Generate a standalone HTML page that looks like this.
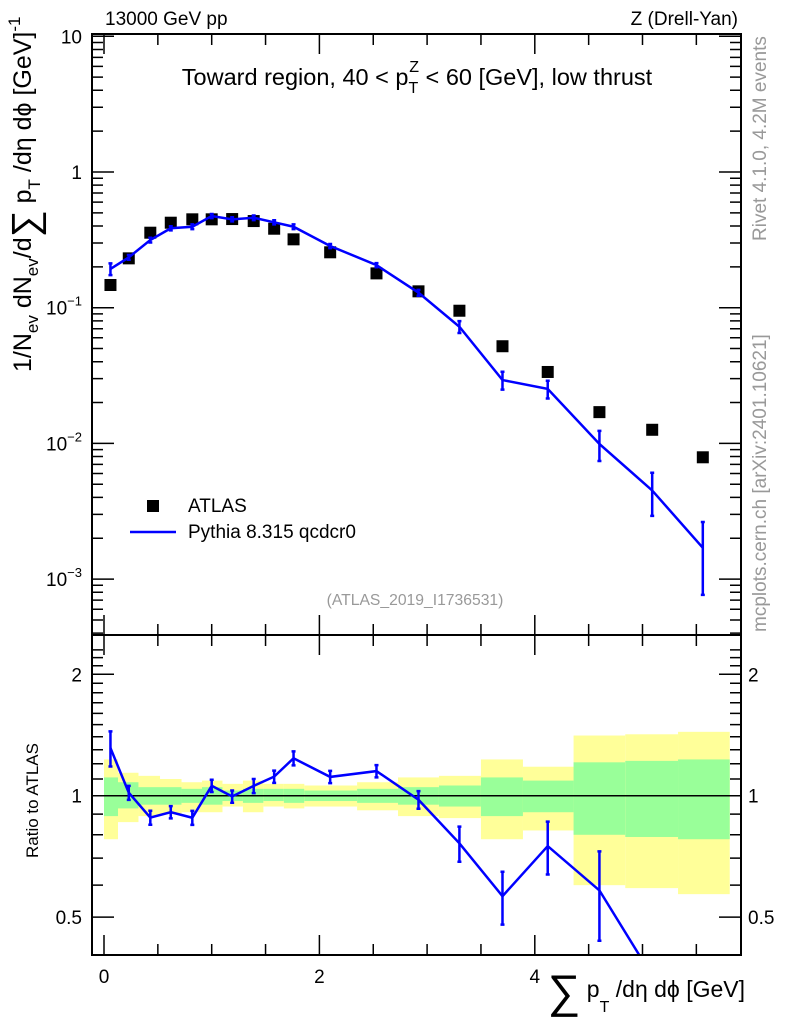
<!DOCTYPE html>
<html><head><meta charset="utf-8"><style>
html,body{margin:0;padding:0;background:#fff;overflow:hidden;width:786px;height:1024px;}
svg{font-family:"Liberation Sans",sans-serif;display:block;}
</style></head><body>
<svg id="c" width="786" height="1024" viewBox="0 0 786 1024" xmlns="http://www.w3.org/2000/svg">
<defs><clipPath id="rclip"><rect x="92" y="635" width="649" height="320"/></clipPath>
<clipPath id="mclip"><rect x="92" y="34" width="649" height="601"/></clipPath></defs>
<g id="bands" clip-path="url(#rclip)"></g>
<g id="marks"></g>
<g id="axes"></g>
<text x="105" y="25" font-size="19">13000 GeV pp</text>
<text x="738" y="25" font-size="19" text-anchor="end">Z (Drell-Yan)</text>
<text x="417" y="85" font-size="23.5" text-anchor="middle">Toward region, 40 &lt; p<tspan font-size="16" dy="8">T</tspan><tspan font-size="16" dx="-9" dy="-21">Z</tspan><tspan dy="13"> &lt; 60 [GeV], low thrust</tspan></text>
<rect x="147" y="500" width="12" height="12" fill="#000"/>
<text x="188" y="512" font-size="19">ATLAS</text>
<line x1="130" y1="532" x2="176" y2="532" stroke="#0000ff" stroke-width="2.5"/>
<text x="188" y="538" font-size="19">Pythia 8.315 qcdcr0</text>
<text x="415" y="605" font-size="15.7" fill="#999" text-anchor="middle">(ATLAS_2019_I1736531)</text>
<text transform="translate(766,241) rotate(-90)" font-size="19" fill="#999">Rivet 4.1.0,  4.2M events</text>
<text transform="translate(766,632) rotate(-90)" font-size="19" fill="#999">mcplots.cern.ch [arXiv:2401.10621]</text>
<text transform="translate(31,372) rotate(-90)" font-size="25">1/N<tspan font-size="17" dy="7">ev</tspan><tspan dy="-7"> dN</tspan><tspan font-size="17" dy="7">ev</tspan><tspan dy="-7">/d</tspan><tspan font-size="38" dy="7">∑</tspan><tspan dy="-7"> p</tspan><tspan font-size="17" dy="9">T</tspan><tspan dy="-9"> /dη dϕ  [GeV]</tspan><tspan font-size="17" dy="-11">-1</tspan></text>
<text transform="translate(38,858) rotate(-90)" font-size="17">Ratio to ATLAS</text>
<text x="745" y="997" font-size="23" text-anchor="end"><tspan font-size="46" dy="10">∑</tspan><tspan dy="-10"> p</tspan><tspan font-size="16" dy="15">T</tspan><tspan dy="-15"> /dη dϕ [GeV]</tspan></text>
</svg>
<script>
const xCenters=[0.06,0.23,0.43,0.62,0.82,1.0,1.19,1.39,1.58,1.76,2.1,2.53,2.92,3.3,3.7,4.12,4.6,5.09,5.56];
const binEdges=[0,0.13,0.32,0.52,0.72,0.91,1.1,1.29,1.48,1.67,1.86,2.35,2.73,3.11,3.5,3.89,4.36,4.84,5.33,5.81];
const atlasVals=[0.147,0.231,0.357,0.423,0.448,0.448,0.45,0.435,0.382,0.319,0.256,0.179,0.132,0.095,0.052,0.0336,0.017,0.0126,0.0079];
const mcVals=[0.193,0.235,0.315,0.385,0.395,0.474,0.448,0.46,0.426,0.395,0.285,0.206,0.129,0.0724,0.0293,0.0252,0.0099,0.0045,0.0017];
const mcRelErr=[0.10,0.04,0.04,0.035,0.04,0.035,0.035,0.04,0.035,0.04,0.035,0.035,0.05,0.10,0.15,0.15,0.25,0.35,0.55];
const yellowHi=[1.23,1.14,1.12,1.10,1.08,1.09,1.07,1.09,1.07,1.07,1.06,1.08,1.11,1.12,1.23,1.18,1.41,1.42,1.44];
const yellowLo=[0.78,0.86,0.89,0.90,0.91,0.91,0.94,0.91,0.94,0.93,0.94,0.92,0.89,0.88,0.78,0.82,0.60,0.59,0.57];
const greenHi=[1.11,1.08,1.05,1.05,1.04,1.05,1.03,1.04,1.04,1.04,1.03,1.04,1.05,1.06,1.11,1.09,1.21,1.22,1.23];
const greenLo=[0.89,0.93,0.95,0.95,0.96,0.95,0.97,0.96,0.97,0.96,0.97,0.96,0.95,0.94,0.89,0.91,0.80,0.79,0.78];
const xTickLabels=["0","2","4"];
const yTickLabels=["10","1","10⁻¹","10⁻²","10⁻³"];
const rTickLabels=["0.5","1","2"];

const NS="http://www.w3.org/2000/svg";
const L=92,R=741,T=34,MB=635,RB=955;
const X=v=>104+v*107.7;
const Y=v=>172-Math.log10(v)*135.7;
const RY=v=>795.7-Math.log2(v)*121.4;
function mk(tag,attrs,parent){const e=document.createElementNS(NS,tag);for(const k in attrs)e.setAttribute(k,attrs[k]);parent.appendChild(e);return e;}
const bands=document.getElementById('bands'),marks=document.getElementById('marks'),axes=document.getElementById('axes');
for(let i=0;i<xCenters.length;i++){
  const x0=X(binEdges[i]),x1=X(binEdges[i+1]);
  let e=mk('rect',{x:x0,y:RY(yellowHi[i]),width:x1-x0,height:RY(yellowLo[i])-RY(yellowHi[i]),fill:'#ffff99'},bands);
  
  
  e=mk('rect',{x:x0,y:RY(greenHi[i]),width:x1-x0,height:RY(greenLo[i])-RY(greenHi[i]),fill:'#99ff99'},bands);
  
  
}
let e=mk('line',{x1:L,x2:R,y1:RY(1),y2:RY(1),stroke:'#000','stroke-width':1.5},bands);


const mg=mk('g',{'clip-path':'url(#mclip)'},marks);
for(let i=0;i<xCenters.length;i++){
  e=mk('rect',{x:X(xCenters[i])-6,y:Y(atlasVals[i])-6,width:12,height:12,fill:'#000'},mg);
  
  
}
e=mk('polyline',{points:xCenters.map((x,i)=>X(x)+','+Y(mcVals[i])).join(' '),fill:'none',stroke:'#0000ff','stroke-width':2.5},mg);


const rg=mk('g',{'clip-path':'url(#rclip)'},marks);
const ratio=mcVals.map((m,i)=>m/atlasVals[i]);
e=mk('polyline',{points:xCenters.map((x,i)=>X(x)+','+RY(ratio[i])).join(' '),fill:'none',stroke:'#0000ff','stroke-width':2.5},rg);


function errbar(g,x,y1,y2,name){
  const el=mk('path',{d:`M${x},${y1}V${y2}M${x-2},${y1}h4M${x-2},${y2}h4`,stroke:'#0000ff','stroke-width':2.5,fill:'none'},g);
  
  
}
for(let i=0;i<xCenters.length;i++){
  const x=X(xCenters[i]);
  errbar(mg,x,Y(mcVals[i]*(1+mcRelErr[i])),Y(mcVals[i]*(1-mcRelErr[i])),'pythia-error-bar');
  if(RY(ratio[i])<=RB) errbar(rg,x,RY(ratio[i]*(1+mcRelErr[i])),RY(ratio[i]*(1-mcRelErr[i])),'ratio-error-bar');
}
e=mk('rect',{x:L,y:T,width:R-L,height:MB-T,fill:'none',stroke:'#000','stroke-width':2},axes);


e=mk('rect',{x:L,y:MB,width:R-L,height:RB-MB,fill:'none',stroke:'#000','stroke-width':2},axes);


let d='';
for(let v=0;v<=5.5;v+=0.5){const x=X(v),len=(v%2===0)?20:11;
  d+=`M${x},${T}v${len}M${x},${MB}v${-len}M${x},${MB}v${len}M${x},${RB}v${-len}`;}
for(let p=-4;p<=1;p++){for(let m=1;m<10;m++){const v=m*Math.pow(10,p),y=Y(v);if(y<T-0.5||y>MB)continue;const len=m===1?22:11;d+=`M${L},${y}h${len}M${R},${y}h${-len}`;}}
for(let v=0.4;v<=2.4;v+=0.1){const vv=Math.round(v*10)/10,y=RY(vv);if(y<MB||y>RB)continue;const len=(vv===0.5||vv===1||vv===2)?22:11;d+=`M${L},${y}h${len}M${R},${y}h${-len}`;}
e=mk('path',{d:d,stroke:'#000','stroke-width':1.5,fill:'none'},axes);


xTickLabels.forEach(t=>{const el=mk('text',{x:X(+t),y:983,'font-size':19,'text-anchor':'middle'},axes);el.textContent=t;
  
  });
yTickLabels.forEach((t,i)=>{const y=Y(Math.pow(10,1-i));const el=mk('text',{x:82,y:y+7,'font-size':19,'text-anchor':'end'},axes);
  if(i>=2){el.innerHTML='10<tspan font-size="13" dy="-9">−'+(i-1)+'</tspan>';}else el.textContent=t;
  
  });
rTickLabels.forEach(t=>{const y=RY(+t);
  let el=mk('text',{x:82,y:y+7,'font-size':19,'text-anchor':'end'},axes);el.textContent=t;
  
  
  el=mk('text',{x:748,y:y+7,'font-size':19},axes);el.textContent=t;
  
  });
</script>
</body></html>
